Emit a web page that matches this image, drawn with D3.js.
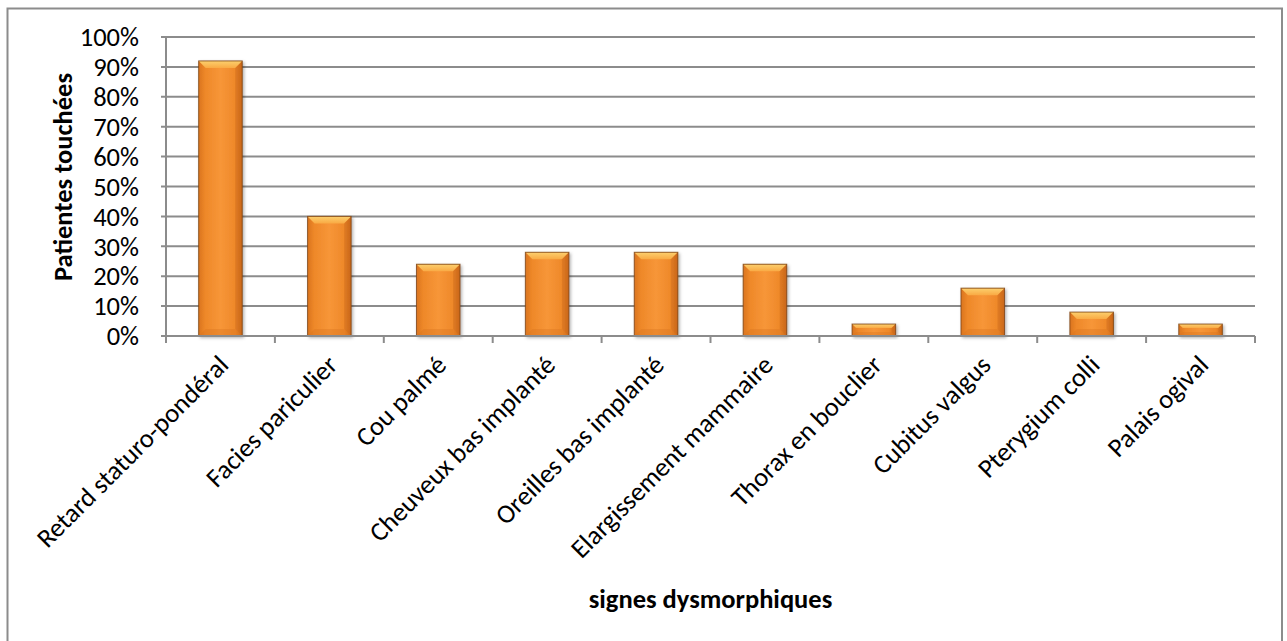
<!DOCTYPE html>
<html>
<head>
<meta charset="utf-8">
<script src="https://cdn.jsdelivr.net/npm/d3@7"></script>
<style>
  html, body { margin: 0; padding: 0; background: #fff; }
  svg { display: block; }
  text { font-family: Carlito, Lato, "Open Sans", sans-serif; fill: #000; }
</style>
</head>
<body>
<svg id="chart" width="1287" height="641"></svg>
<script>
// Dysmorphic signs observed in the patients (share of patients affected)
const categories = [
  "Retard staturo-pondéral",
  "Facies pariculier",
  "Cou palmé",
  "Cheuveux bas implanté",
  "Oreilles bas implanté",
  "Elargissement mammaire",
  "Thorax en bouclier",
  "Cubitus valgus",
  "Pterygium colli",
  "Palais ogival"
];
const values = [0.92, 0.40, 0.24, 0.28, 0.28, 0.24, 0.04, 0.16, 0.08, 0.04];
const yTicks = [0, 0.1, 0.2, 0.3, 0.4, 0.5, 0.6, 0.7, 0.8, 0.9, 1.0];
const yTitle = "Patientes touchées";
const xTitle = "signes dysmorphiques";

const svg = d3.select("#chart");
const W = 1287, H = 641;
const plot = { left: 166, right: 1255, top: 37, bottom: 336 };
const fs = "26.5px";

// outer chart frame
svg.append("rect")
  .attr("x", 7.5).attr("y", 8.5)
  .attr("width", 1282 - 7.5).attr("height", H + 20)
  .attr("fill", "#fff").attr("stroke", "#8c8c8c").attr("stroke-width", 2);

const x = d3.scaleBand().domain(categories)
  .range([plot.left, plot.right]).paddingInner(0.6).paddingOuter(0.3);
const y = d3.scaleLinear().domain([0, 1]).range([plot.bottom, plot.top]);

const defs = svg.append("defs");
const body = defs.append("linearGradient").attr("id", "barBody")
  .attr("x1", 0).attr("x2", 1).attr("y1", 0).attr("y2", 0);
[["0%", "#da741e"], ["15%", "#ee8829"], ["50%", "#f79638"], ["85%", "#ee8829"], ["100%", "#cd6a19"]]
  .forEach(([o, c]) => body.append("stop").attr("offset", o).attr("stop-color", c));
const topG = defs.append("linearGradient").attr("id", "barTop")
  .attr("x1", 0).attr("x2", 0).attr("y1", 0).attr("y2", 1);
[["0%", "#fcd06e"], ["100%", "#f9aa44"]]
  .forEach(([o, c]) => topG.append("stop").attr("offset", o).attr("stop-color", c));
const shadow = defs.append("filter").attr("id", "shadow")
  .attr("x", "-20%").attr("y", "-20%").attr("width", "150%").attr("height", "150%");
shadow.append("feDropShadow").attr("dx", 1.5).attr("dy", 1.5)
  .attr("stdDeviation", 1.8).attr("flood-color", "#000").attr("flood-opacity", 0.3);

// horizontal gridlines
svg.append("g").selectAll("line").data(yTicks).join("line")
  .attr("x1", plot.left - 5).attr("x2", plot.right)
  .attr("y1", d => y(d)).attr("y2", d => y(d))
  .attr("stroke", "#8c8c8c").attr("stroke-width", 2);

// y axis line
svg.append("line")
  .attr("x1", plot.left).attr("x2", plot.left)
  .attr("y1", plot.top).attr("y2", plot.bottom)
  .attr("stroke", "#8c8c8c").attr("stroke-width", 2);

// y tick labels
svg.append("g").selectAll("text").data(yTicks).join("text")
  .attr("x", plot.left - 27).attr("y", d => y(d))
  .attr("dy", "0.35em").attr("text-anchor", "end")
  .style("font-size", fs)
  .text(d => d3.format(".0%")(d));

// category boundary ticks below the axis
const step = x.step();
const bounds = d3.range(categories.length + 1).map(i => plot.left + i * step);
svg.append("g").selectAll("line").data(bounds).join("line")
  .attr("x1", d => d).attr("x2", d => d)
  .attr("y1", plot.bottom).attr("y2", plot.bottom + 7)
  .attr("stroke", "#8c8c8c").attr("stroke-width", 2);

// bevelled bars
const bars = svg.append("g").selectAll("g").data(categories.map((c, i) => ({ c, v: values[i] })))
  .join("g").attr("filter", "url(#shadow)");
bars.each(function (d) {
  const g = d3.select(this);
  const x0 = x(d.c), x1 = x(d.c) + x.bandwidth();
  const y0 = y(d.v), y1 = y(0);
  const b = Math.min(7, (y1 - y0) / 3);
  g.append("rect").attr("x", x0).attr("y", y0)
    .attr("width", x1 - x0).attr("height", y1 - y0)
    .attr("fill", "url(#barBody)");
  // top bevel
  g.append("path")
    .attr("d", `M${x0},${y0}L${x1},${y0}L${x1 - b},${y0 + b}L${x0 + b},${y0 + b}Z`)
    .attr("fill", "url(#barTop)");
  // right bevel
  g.append("path")
    .attr("d", `M${x1},${y0}L${x1 - b},${y0 + b}L${x1 - b},${y1 - b}L${x1},${y1}Z`)
    .attr("fill", "#c2621a").attr("opacity", 0.35);
  // bottom bevel
  g.append("path")
    .attr("d", `M${x0},${y1}L${x0 + b},${y1 - b}L${x1 - b},${y1 - b}L${x1},${y1}Z`)
    .attr("fill", "#d8741f").attr("opacity", 0.35);
  g.append("rect").attr("x", x0).attr("y", y0)
    .attr("width", x1 - x0).attr("height", y1 - y0)
    .attr("fill", "none").attr("stroke", "#7a4214").attr("stroke-width", 1).attr("stroke-opacity", 0.8);
});

// x axis baseline
svg.append("line")
  .attr("x1", plot.left).attr("x2", plot.right)
  .attr("y1", plot.bottom).attr("y2", plot.bottom)
  .attr("stroke", "#8c8c8c").attr("stroke-width", 2);

// rotated category labels
svg.append("g").selectAll("text").data(categories).join("text")
  .attr("transform", d => `translate(${x(d) + x.bandwidth() / 2 + 3},${plot.bottom + 24}) rotate(-45)`)
  .attr("text-anchor", "end")
  .attr("dy", "0.35em")
  .style("font-size", fs)
  .text(d => d);

// axis titles
svg.append("text")
  .attr("transform", `translate(63,177) rotate(-90)`)
  .attr("text-anchor", "middle")
  .attr("dy", "0.35em")
  .style("font-size", fs).style("font-weight", "bold")
  .text(yTitle);

svg.append("text")
  .attr("x", (plot.left + plot.right) / 2).attr("y", 608)
  .attr("text-anchor", "middle")
  .style("font-size", fs).style("font-weight", "bold")
  .text(xTitle);
</script>
</body>
</html>
